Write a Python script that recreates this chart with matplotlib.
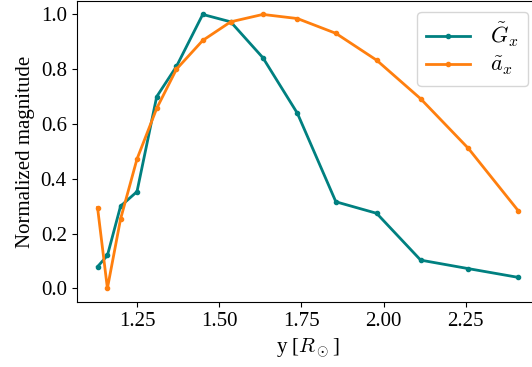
import matplotlib
matplotlib.use("Agg")
import matplotlib.pyplot as plt

# data
y_pos = [1.13, 1.16, 1.20, 1.25, 1.31, 1.37, 1.45, 1.535, 1.633, 1.738,
         1.855, 1.979, 2.113, 2.258, 2.41]
G_x = [0.079, 0.12, 0.30, 0.353, 0.70, 0.81, 1.0, 0.973, 0.842, 0.639,
       0.316, 0.274, 0.103, 0.072, 0.040]
a_x = [0.295, 0.0, 0.253, 0.472, 0.657, 0.80, 0.905, 0.973, 1.0, 0.985,
       0.931, 0.833, 0.692, 0.511, 0.283]

plt.rcParams['font.family'] = 'serif'
plt.rcParams['font.serif'] = ['Liberation Serif', 'DejaVu Serif']
plt.rcParams['mathtext.fontset'] = 'cm'
plt.rcParams['font.size'] = 15

fig = plt.figure(figsize=(5.32, 3.67), dpi=100)
ax = fig.add_axes([0.1438, 0.177, 0.870, 0.821])

ax.plot(y_pos, G_x, '.-', color='teal', lw=2, ms=6, label=r'$\tilde{G}_x$')
ax.plot(y_pos, a_x, '.-', color='tab:orange', lw=2, ms=6, label=r'$\tilde{a}_x$')

ax.set_xticks([1.25, 1.50, 1.75, 2.00, 2.25])
ax.set_yticks([0.0, 0.2, 0.4, 0.6, 0.8, 1.0])
ax.set_xlabel(r'y [$R_\odot$]')
ax.set_ylabel('Normalized magnitude')

ax.legend(loc='upper right', bbox_to_anchor=(528 / 532, 1 - 12 / 367),
          bbox_transform=fig.transFigure, borderaxespad=0, fontsize=16,
          labelspacing=0.25, borderpad=0.4, handletextpad=0.9)

fig.savefig('out.png', dpi=100)
